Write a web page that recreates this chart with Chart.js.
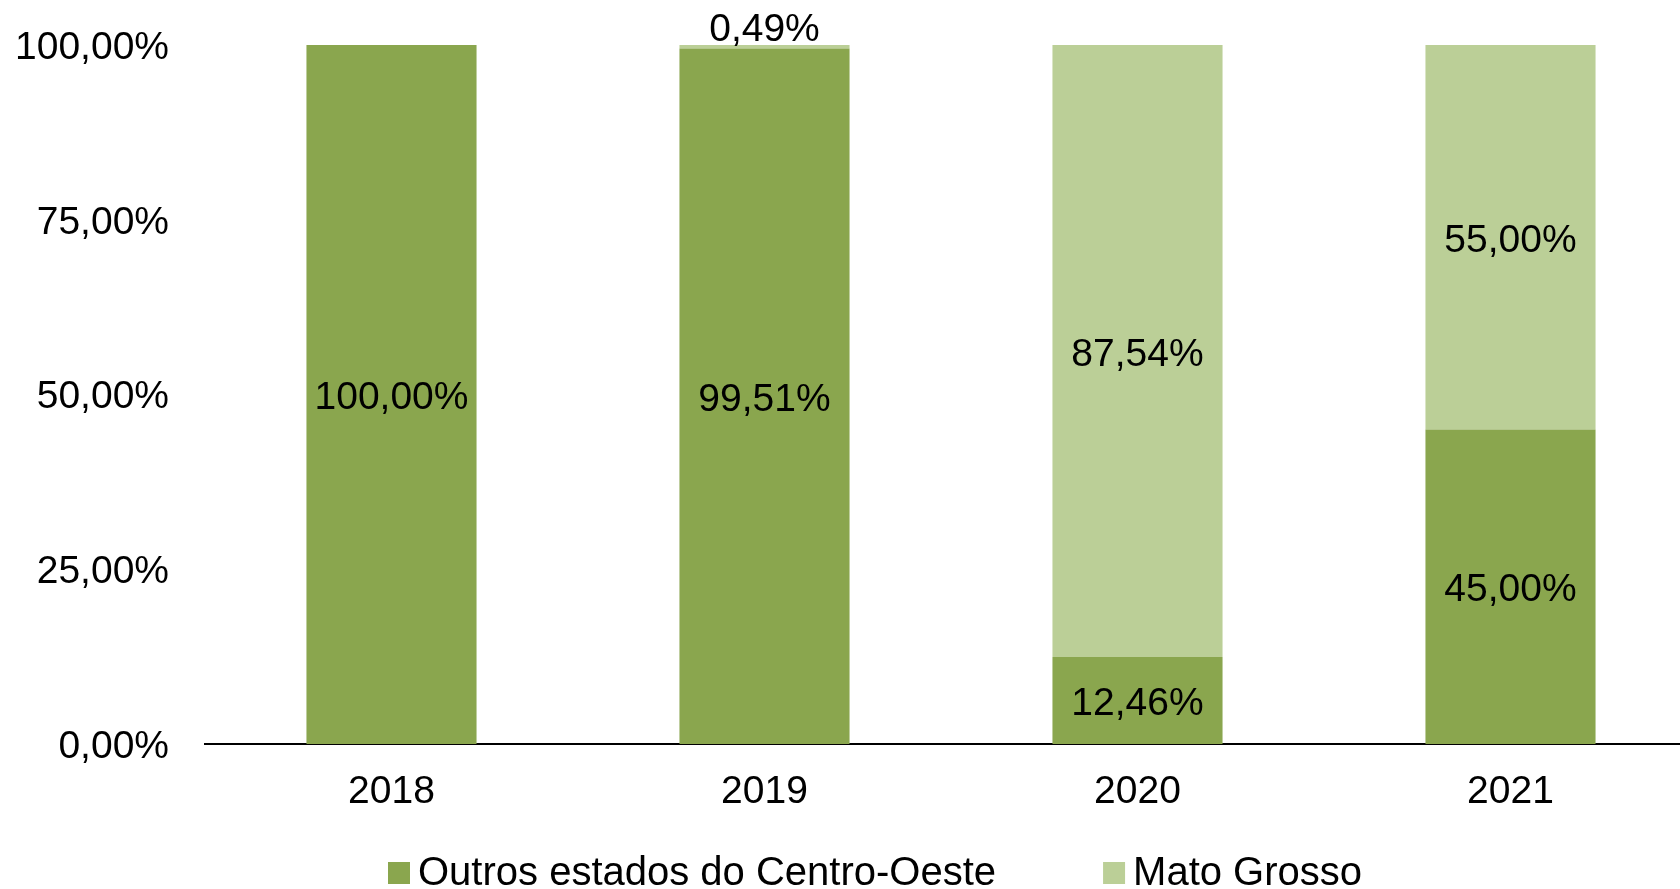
<!DOCTYPE html>
<html>
<head>
<meta charset="utf-8">
<script src="https://cdn.jsdelivr.net/npm/chart.js@4/dist/chart.umd.min.js"></script>
<style>
    html, body { margin: 0; padding: 0; background: #fff; overflow: hidden; }
    #wrap { width: 1700px; height: 889px; }
</style>
</head>
<body>
<div id="wrap"><canvas id="shareChart"></canvas></div>
<script>
// Data
const years = ["2018", "2019", "2020", "2021"];
const outrosEstados = [100.00, 99.51, 12.46, 45.00];
const matoGrosso = [0.00, 0.49, 87.54, 55.00];
const yTicks = [0, 25, 50, 75, 100];

const seriesNames = ["Outros estados do Centro-Oeste", "Mato Grosso"];
const darkGreen = "#8aa64e";
const lightGreen = "#bbcf97";
const FONT = "'Liberation Sans', Arial, sans-serif";

function fmtPct(v) {
    return v.toFixed(2).replace(".", ",") + "%";
}

// Value labels inside / above the segments
const barLabels = {
    id: "barLabels",
    afterDatasetsDraw(chart) {
        const ctx = chart.ctx;
        ctx.save();
        ctx.font = "39px " + FONT;
        ctx.fillStyle = "#000";
        ctx.textAlign = "center";
        ctx.textBaseline = "middle";
        chart.data.datasets.forEach((ds, di) => {
            const meta = chart.getDatasetMeta(di);
            meta.data.forEach((bar, i) => {
                const v = ds.data[i];
                if (!v) return;
                if (v < 2) {
                    ctx.fillText(fmtPct(v), bar.x, bar.y - 15);
                } else {
                    ctx.fillText(fmtPct(v), bar.x, (bar.y + bar.base) / 2 + 4);
                }
            });
        });
        ctx.restore();
    }
};

// Legend drawn by hand to match spacing
const customLegend = {
    id: "customLegend",
    afterDraw(chart) {
        const ctx = chart.ctx;
        ctx.save();
        ctx.font = "40px " + FONT;
        ctx.textBaseline = "middle";
        ctx.textAlign = "left";
        const y = 873;
        let x = 388;
        chart.data.datasets.forEach((ds) => {
            ctx.fillStyle = ds.backgroundColor;
            ctx.fillRect(x, y - 11, 22, 22);
            ctx.fillStyle = "#000";
            ctx.fillText(ds.label, x + 30, y + 1);
            x += 30 + ctx.measureText(ds.label).width + 107;
        });
        ctx.restore();
    }
};

const ctx = document.getElementById("shareChart").getContext("2d");
new Chart(ctx, {
    type: "bar",
    data: {
        labels: years,
        datasets: [
            {
                label: seriesNames[0],
                data: outrosEstados,
                backgroundColor: darkGreen,
                borderWidth: 0,
            },
            {
                label: seriesNames[1],
                data: matoGrosso,
                backgroundColor: lightGreen,
                borderWidth: 0,
            },
        ],
    },
    options: {
        responsive: true,
        maintainAspectRatio: false,
        animation: false,
        layout: {
            padding: { top: 45, left: 0, right: 3, bottom: 55 },
        },
        plugins: {
            legend: { display: false },
            tooltip: { enabled: false },
        },
        datasets: {
            bar: { barPercentage: 0.456, categoryPercentage: 1 },
        },
        scales: {
            x: {
                stacked: true,
                grid: { display: false, drawTicks: false },
                border: { display: true, color: "#000", width: 2 },
                ticks: {
                    color: "#000",
                    font: { family: FONT, size: 39 },
                    padding: 25,
                    maxRotation: 0,
                },
                afterFit(scale) { scale.height = 90; },
            },
            y: {
                stacked: true,
                min: 0,
                max: 100,
                grid: { display: false, drawTicks: false },
                border: { display: false },
                afterBuildTicks(scale) {
                    scale.ticks = yTicks.map(v => ({ value: v }));
                },
                ticks: {
                    color: "#000",
                    font: { family: FONT, size: 39 },
                    padding: 36,
                    labelOffset: 3,
                    callback: (v) => fmtPct(v),
                },
                afterFit(scale) {
                    scale.width = 205;
                    scale.paddingTop = 0;
                    scale.paddingBottom = 0;
                },
            },
        },
    },
    plugins: [barLabels, customLegend],
});
</script>
</body>
</html>
